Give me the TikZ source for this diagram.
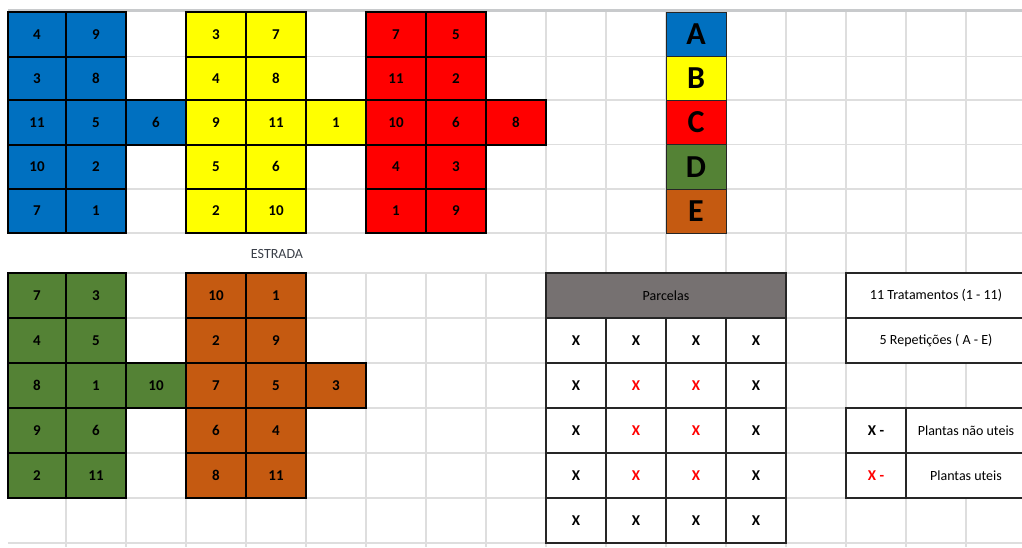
\documentclass[tikz,border=0pt]{standalone}
\usepackage{fontspec}
\setmainfont{Carlito}
\definecolor{cA}{HTML}{0070C0}
\definecolor{cB}{HTML}{FFFF00}
\definecolor{cC}{HTML}{FF0000}
\definecolor{cD}{HTML}{548235}
\definecolor{cE}{HTML}{C55A11}
\definecolor{gridc}{HTML}{DEDEDE}
\definecolor{headc}{HTML}{C8CACC}
\definecolor{parc}{HTML}{767171}
\definecolor{tabline}{HTML}{262626}
\definecolor{roadtxt}{HTML}{3A3F48}
\newcommand\XC[1]{\ifnum\numexpr#1\relax=0 8\else\the\numexpr6+60*(#1)\relax\fi}
\newcommand\YR[1]{\ifcase\numexpr#1\relax 12\or 56.5\or 100\or 144.5\or 189\or 233\or 273\or 318\or 363\or 408\or 453\or 498\or 543\fi}
% name, first col, end col (exclusive), row, style, text
\newcommand\cel[6]{%
  \edef\xa{\XC{#2}}\edef\xb{\XC{#3}}%
  \edef\ya{\YR{#4}}\edef\yb{\YR{#4+1}}%
  \node[cellbase,#5,minimum width={\xb-\xa},minimum height={\yb-\ya}]
    (#1) at ({(\xa+\xb)/2},{(\ya+\yb)/2}) {#6};}
\tikzset{
  cellbase/.style={rectangle,inner sep=0pt,outer sep=0pt,
    font=\fontsize{15}{17}\selectfont\bfseries},
  plotA/.style={fill=cA,draw=black,line width=2pt},
  plotB/.style={fill=cB,draw=black,line width=2pt},
  plotC/.style={fill=cC,draw=black,line width=2pt},
  plotD/.style={fill=cD,draw=black,line width=2pt},
  plotE/.style={fill=cE,draw=black,line width=2pt},
  keybox/.style={draw=black!85,line width=1pt,font=\fontsize{32}{34}\selectfont\bfseries},
  tabbox/.style={fill=white,draw=tabline,line width=1.2pt},
  tabhead/.style={fill=parc,draw=tabline,line width=1.2pt,font=\fontsize{14}{16}\selectfont},
  legtext/.style={fill=white,draw=tabline,line width=1.2pt,font=\fontsize{14}{16}\selectfont},
  gridline/.style={draw=gridc,line width=1.2pt},
}
\begin{document}
\begin{tikzpicture}[x=1pt,y=-1pt]
\useasboundingbox (0,0) rectangle (1022,547);
\clip (0,0) rectangle (1022,547);
% spreadsheet grid
\foreach \c in {1,...,8}{
  \draw[gridline] ({6+60*\c},10.5) -- ({6+60*\c},233);
  \draw[gridline] ({6+60*\c},273) -- ({6+60*\c},547);
}
\foreach \c in {9,...,16}{
  \draw[gridline] ({6+60*\c},10.5) -- ({6+60*\c},547);
}
\foreach \y in {56.5,100,144.5,189,233,273,318,363,408,453,498,543}{
  \draw[gridline] (8,\y) -- (1022,\y);
}
\draw[headc,line width=3pt] (8,10.5) -- (1022,10.5);
% block A (blue)
\cel{a1}{0}{1}{0}{plotA}{4}   \cel{a2}{1}{2}{0}{plotA}{9}
\cel{a3}{0}{1}{1}{plotA}{3}   \cel{a4}{1}{2}{1}{plotA}{8}
\cel{a5}{0}{1}{2}{plotA}{11}  \cel{a6}{1}{2}{2}{plotA}{5}  \cel{a7}{2}{3}{2}{plotA}{6}
\cel{a8}{0}{1}{3}{plotA}{10}  \cel{a9}{1}{2}{3}{plotA}{2}
\cel{a10}{0}{1}{4}{plotA}{7}  \cel{a11}{1}{2}{4}{plotA}{1}
% block B (yellow)
\cel{b1}{3}{4}{0}{plotB}{3}   \cel{b2}{4}{5}{0}{plotB}{7}
\cel{b3}{3}{4}{1}{plotB}{4}   \cel{b4}{4}{5}{1}{plotB}{8}
\cel{b5}{3}{4}{2}{plotB}{9}   \cel{b6}{4}{5}{2}{plotB}{11} \cel{b7}{5}{6}{2}{plotB}{1}
\cel{b8}{3}{4}{3}{plotB}{5}   \cel{b9}{4}{5}{3}{plotB}{6}
\cel{b10}{3}{4}{4}{plotB}{2}  \cel{b11}{4}{5}{4}{plotB}{10}
% block C (red)
\cel{c1}{6}{7}{0}{plotC}{7}   \cel{c2}{7}{8}{0}{plotC}{5}
\cel{c3}{6}{7}{1}{plotC}{11}  \cel{c4}{7}{8}{1}{plotC}{2}
\cel{c5}{6}{7}{2}{plotC}{10}  \cel{c6}{7}{8}{2}{plotC}{6}  \cel{c7}{8}{9}{2}{plotC}{8}
\cel{c8}{6}{7}{3}{plotC}{4}   \cel{c9}{7}{8}{3}{plotC}{3}
\cel{c10}{6}{7}{4}{plotC}{1}  \cel{c11}{7}{8}{4}{plotC}{9}
% block D (green)
\cel{d1}{0}{1}{6}{plotD}{7}   \cel{d2}{1}{2}{6}{plotD}{3}
\cel{d3}{0}{1}{7}{plotD}{4}   \cel{d4}{1}{2}{7}{plotD}{5}
\cel{d5}{0}{1}{8}{plotD}{8}   \cel{d6}{1}{2}{8}{plotD}{1}  \cel{d7}{2}{3}{8}{plotD}{10}
\cel{d8}{0}{1}{9}{plotD}{9}   \cel{d9}{1}{2}{9}{plotD}{6}
\cel{d10}{0}{1}{10}{plotD}{2} \cel{d11}{1}{2}{10}{plotD}{11}
% block E (orange)
\cel{e1}{3}{4}{6}{plotE}{10}  \cel{e2}{4}{5}{6}{plotE}{1}
\cel{e3}{3}{4}{7}{plotE}{2}   \cel{e4}{4}{5}{7}{plotE}{9}
\cel{e5}{3}{4}{8}{plotE}{7}   \cel{e6}{4}{5}{8}{plotE}{5}  \cel{e7}{5}{6}{8}{plotE}{3}
\cel{e8}{3}{4}{9}{plotE}{6}   \cel{e9}{4}{5}{9}{plotE}{4}
\cel{e10}{3}{4}{10}{plotE}{8} \cel{e11}{4}{5}{10}{plotE}{11}
% road label
\node[font=\fontsize{14}{16}\selectfont,text=roadtxt,inner sep=0pt] (road) at (277,253.5) {ESTRADA};
% repetition key
\cel{kA}{11}{12}{0}{keybox,fill=cA}{A}
\cel{kB}{11}{12}{1}{keybox,fill=cB}{B}
\cel{kC}{11}{12}{2}{keybox,fill=cC}{C}
\cel{kD}{11}{12}{3}{keybox,fill=cD}{D}
\cel{kE}{11}{12}{4}{keybox,fill=cE}{E}
% parcelas table
\cel{ph}{9}{13}{6}{tabhead}{Parcelas}
\foreach \r in {7,...,11}{
  \foreach \c in {9,...,12}{
    \cel{p\r-\c}{\c}{\c+1}{\r}{tabbox}{X}
  }
}
\foreach \r in {8,9,10}{
  \foreach \c in {10,11}{
    \cel{q\r-\c}{\c}{\c+1}{\r}{tabbox,text=red}{X}
  }
}
% info boxes
\cel{trat}{14}{17}{6}{legtext}{11 Tratamentos (1 - 11)}
\cel{rep}{14}{17}{7}{legtext}{5 Repetições ( A - E)}
\cel{kx}{14}{15}{9}{tabbox}{X -}
\cel{kxt}{15}{17}{9}{legtext}{Plantas não uteis}
\cel{ky}{14}{15}{10}{tabbox,text=red}{X -}
\cel{kyt}{15}{17}{10}{legtext}{Plantas uteis}
\end{tikzpicture}
\end{document}
